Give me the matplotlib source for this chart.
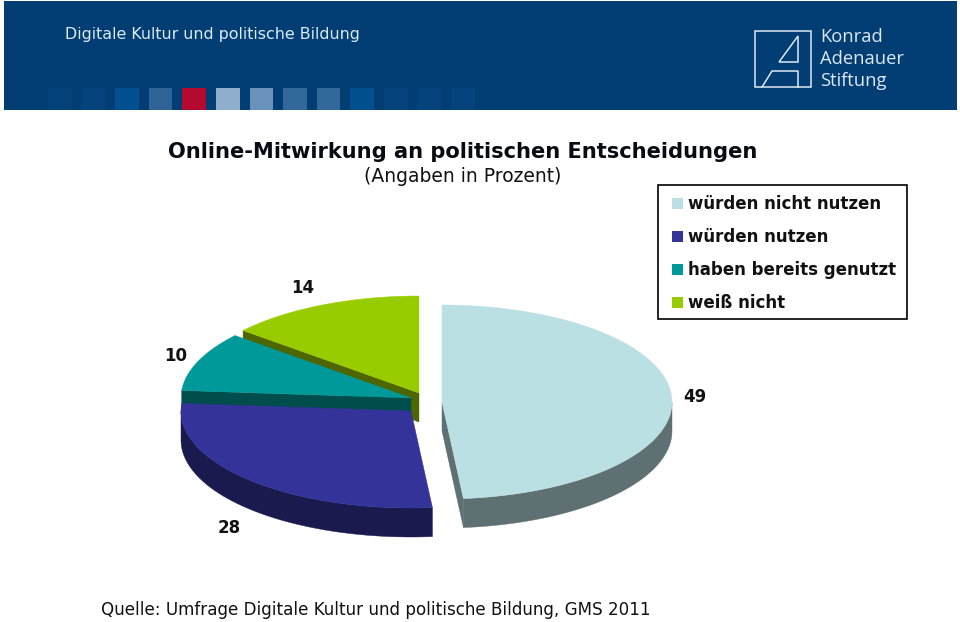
import numpy as np
import matplotlib
matplotlib.use("Agg")
import matplotlib.pyplot as plt
from matplotlib.patches import Patch, Polygon, Rectangle

categories = ["würden nicht nutzen", "würden nutzen", "haben bereits genutzt", "weiß nicht"]
values = [49, 28, 10, 14]
top_colors = ["#BBE0E3", "#333399", "#009999", "#99CC00"]
side_colors = ["#5F7072", "#1A1A4F", "#004D4D", "#4D6600"]
centers = [(442, 402), (411, 411), (411, 398), (419, 393)]
label_positions = [(695, 397), (229, 528), (176, 356), (303, 288)]
RX, RY, DEPTH = 230, 97, 29
band_colors = ["#04427A", "#04437C", "#02508F", "#2F6395", "#B40A30", "#8FAECB", "#6A92BB",
               "#33689A", "#33689A", "#03508F", "#04437C", "#04437C", "#04437C"]

fig = plt.figure(figsize=(9.6, 6.22), dpi=100, facecolor="white")
ax = fig.add_axes([0, 0, 1, 1])
ax.set_xlim(0, 960)
ax.set_ylim(622, 0)
ax.axis("off")

# banner
ax.add_patch(Rectangle((4, 1), 953, 109, fc="#023E73", ec="none"))
for i, c in enumerate(band_colors):
    ax.add_patch(Rectangle((48 + i * 33.6, 87.5), 23.5, 22.5, fc=c, ec="none"))
LOGO = "#DCE8F4"
ax.text(65, 34, "Digitale Kultur und politische Bildung", color="#DCEBF8", fontsize=11.4,
        va="center", ha="left")
ax.add_patch(Rectangle((754.5, 31), 56.5, 56, fc="none", ec=LOGO, lw=1.1))
ax.add_patch(Polygon([(798, 36), (779, 62), (798, 62)], closed=True, fc="none", ec=LOGO, lw=1.1))
ax.plot([762, 772, 798, 798], [87, 71, 71, 87], color=LOGO, lw=1.1)
for y, t in zip([37, 59, 81], ["Konrad", "Adenauer", "Stiftung"]):
    ax.text(820, y, t, color=LOGO, fontsize=13.2, family="Open Sans", va="center", ha="left")

# titles
ax.text(463, 152, "Online-Mitwirkung an politischen Entscheidungen", fontsize=15.1,
        fontweight="bold", ha="center", va="center", color="#0A0A14")
ax.text(463, 176, "(Angaben in Prozent)", fontsize=13.5, ha="center", va="center", color="#111111")

# pie: angles clockwise from 12 o'clock
fractions = np.array(values, dtype=float) / sum(values)
edges = np.concatenate([[0], np.cumsum(fractions)]) * 2 * np.pi

def pt(c, a):
    return c[0] + RX * np.sin(a), c[1] - RY * np.cos(a)

def radial_wall(c, a, color):
    ex, ey = pt(c, a)
    rad = [(c[0], c[1]), (ex, ey), (ex, ey + DEPTH), (c[0], c[1] + DEPTH)]
    ax.add_patch(Polygon(rad, closed=True, fc=color, ec=color, lw=0.3))

for idx in [3, 2, 1, 0]:
    a0, a1 = edges[idx], edges[idx + 1]
    c = centers[idx]
    arc = np.linspace(a0, a1, 200)
    ax_x, ax_y = pt(c, arc)
    # radial walls that face the viewer
    if np.pi < a0 < 2 * np.pi:
        radial_wall(c, a0, side_colors[idx])
    if 0 < a1 < np.pi:
        radial_wall(c, a1, side_colors[idx])
    # outer wall: the part of the rim facing the viewer
    vis = (arc > np.pi / 2) & (arc < 3 * np.pi / 2)
    if vis.any():
        wx, wy = ax_x[vis], ax_y[vis]
        wall = np.column_stack([np.r_[wx, wx[::-1]], np.r_[wy, wy[::-1] + DEPTH]])
        ax.add_patch(Polygon(wall, closed=True, fc=side_colors[idx], ec=side_colors[idx], lw=0.3))
    top = np.column_stack([np.r_[c[0], ax_x], np.r_[c[1], ax_y]])
    ax.add_patch(Polygon(top, closed=True, fc=top_colors[idx], ec=top_colors[idx], lw=0.3))
    lx, ly = label_positions[idx]
    ax.text(lx, ly, str(values[idx]), fontsize=12, fontweight="bold", ha="center", va="center", color="#111111")

# legend
ax.add_patch(Rectangle((658, 185), 249, 134, fc="white", ec="black", lw=1.2, zorder=2))
handles = [Patch(fc=c, ec="none") for c in top_colors]
leg = ax.legend(handles, categories, loc="upper left", bbox_to_anchor=(662, 185),
                bbox_transform=ax.transData, borderaxespad=0, frameon=False,
                handlelength=0.65, handleheight=0.65,
                handletextpad=0.31, labelspacing=0.9, borderpad=0.62,
                prop={"size": 12, "weight": "bold"})
leg.set_zorder(3)
for t in leg.get_texts():
    t.set_color("#111111")

ax.text(101, 610, "Quelle: Umfrage Digitale Kultur und politische Bildung, GMS 2011", fontsize=12.1,
        ha="left", va="center", color="#111111")

fig.savefig("out.png", dpi=100)
